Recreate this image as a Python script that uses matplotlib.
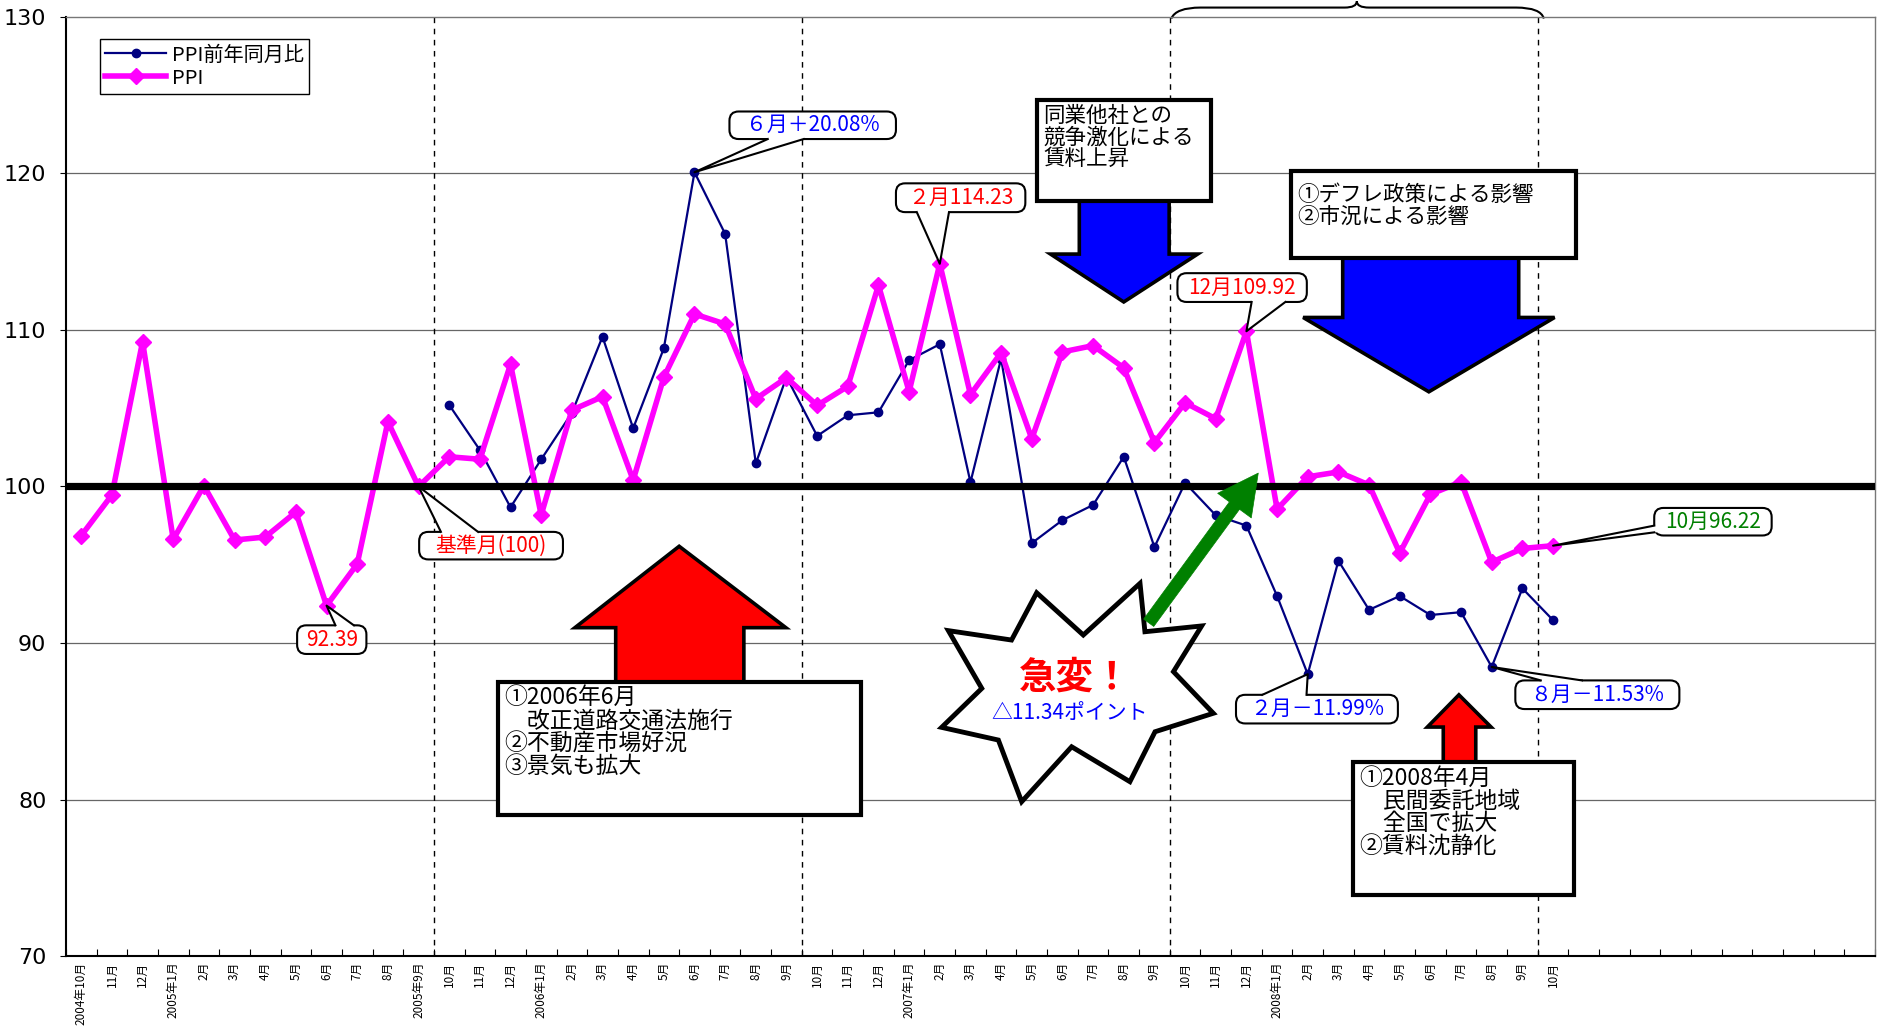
import numpy as np
import matplotlib.pyplot as plt
from matplotlib.patches import Polygon, Rectangle, FancyArrowPatch, FancyBboxPatch, PathPatch
from matplotlib.path import Path

plt.rcParams['font.family'] = ['Noto Sans CJK JP', 'DejaVu Sans']

# --- data ---------------------------------------------------------------
month_labels = [
    '2004年10月', '11月', '12月',
    '2005年1月', '2月', '3月', '4月', '5月', '6月', '7月', '8月', '2005年9月',
    '10月', '11月', '12月',
    '2006年1月', '2月', '3月', '4月', '5月', '6月', '7月', '8月', '9月',
    '10月', '11月', '12月',
    '2007年1月', '2月', '3月', '4月', '5月', '6月', '7月', '8月', '9月',
    '10月', '11月', '12月',
    '2008年1月', '2月', '3月', '4月', '5月', '6月', '7月', '8月', '9月',
    '10月',
]
n_slots = 59  # the category axis runs on past the last month

# PPI (2005年9月 = 100), from 2004年10月
ppi = [96.86, 99.46, 109.25, 96.62, 100.05, 96.58, 96.77, 98.37, 92.39, 95.05,
       104.14, 100.0, 101.9, 101.74, 107.81, 98.18, 104.88, 105.74, 100.41, 106.98,
       111.02, 110.38, 105.6, 106.95, 105.18, 106.4, 112.86, 106.06, 114.23, 105.87,
       108.55, 103.05, 108.6, 109.0, 107.58, 102.81, 105.35, 104.33, 109.92, 98.55,
       100.62, 100.93, 100.1, 95.75, 99.5, 100.3, 95.16, 96.04, 96.22]

# PPI前年同月比, from 2005年10月
yoy_start = 12
yoy = [105.21, 102.33, 98.67, 101.73, 104.7, 109.57, 103.72, 108.83, 120.08, 116.14,
       101.47, 107.0, 103.23, 104.55, 104.74, 108.07, 109.09, 100.27, 108.17, 96.38,
       97.85, 98.82, 101.9, 96.13, 100.23, 98.16, 97.5, 93.0, 88.01, 95.25,
       92.12, 93.0, 91.79, 91.97, 88.47, 93.49, 91.46]

year_breaks = [11.5, 23.5, 35.5, 47.5]

# --- figure -------------------------------------------------------------
fig = plt.figure(figsize=(18.78, 10.34), dpi=100)
ax = fig.add_axes([0.0351, 0.0754, 0.9633, 0.9082])

x_ppi = np.arange(len(ppi))
x_yoy = np.arange(yoy_start, yoy_start + len(yoy))
ax.plot(x_yoy, yoy, color='#000080', lw=1.6, marker='o', ms=6,
        label='PPI前年同月比', zorder=4)
ax.plot(x_ppi, ppi, color='#FF00FF', lw=4, marker='D', ms=8,
        label='PPI', zorder=4.5)

ax.axhline(100, color='black', lw=5.2, zorder=6)
for yv in [80, 90, 110, 120]:
    ax.axhline(yv, color='#666666', lw=0.9, zorder=1)
for xb in year_breaks:
    ax.axvline(xb, color='black', lw=1, ls=(0, (4, 4)), zorder=1.5)

ax.set_xlim(-0.5, n_slots - 0.5)
ax.set_ylim(70, 130)
ax.set_yticks(np.arange(70, 131, 10))
ax.tick_params(axis='y', labelsize=16, length=4, pad=10)
for t in ax.get_yticklabels():
    t.set_family('DejaVu Sans')

ax.set_xticks(np.arange(-0.5, n_slots, 1))
ax.set_xticklabels([])
ax.tick_params(axis='x', which='major', direction='in', length=5)
ax.set_xticks(np.arange(len(month_labels)), minor=True)
ax.set_xticklabels(month_labels, minor=True, rotation=90, fontsize=8.5)
ax.tick_params(axis='x', which='minor', length=0, pad=4)

for s in ['left', 'bottom']:
    ax.spines[s].set_linewidth(1.5)
for s in ['top', 'right']:
    ax.spines[s].set_color('#777777')
    ax.spines[s].set_linewidth(1)

ax.legend(loc='upper left', bbox_to_anchor=(0.019, 0.976), borderaxespad=0,
          fontsize=14.5, handlelength=3, fancybox=False, framealpha=1,
          edgecolor='black', borderpad=0.25, labelspacing=0.1, handletextpad=0.3)

# --- brace over the last year -------------------------------------------
brace = Path([(35.55, 129.9), (35.7, 130.6), (36.5, 130.6),
              (41.2, 130.6), (41.6, 130.6), (41.6, 131.0),
              (41.6, 130.6), (42.0, 130.6), (46.8, 130.6),
              (47.6, 130.6), (47.7, 129.9)],
             [Path.MOVETO, Path.CURVE3, Path.CURVE3,
              Path.LINETO, Path.CURVE3, Path.CURVE3,
              Path.CURVE3, Path.CURVE3, Path.LINETO,
              Path.CURVE3, Path.CURVE3])
ax.add_patch(PathPatch(brace, fc='none', ec='black', lw=1.5, clip_on=False))


# --- block arrows and text boxes ------------------------------------------
def block_arrow(shaft, head, tip, base_y, head_y, color):
    pts = [(shaft[0], base_y), (shaft[0], head_y), (head[0], head_y), tip,
           (head[1], head_y), (shaft[1], head_y), (shaft[1], base_y)]
    ax.add_patch(Polygon(pts, closed=True, fc=color, ec='black', lw=2.6,
                         joinstyle='miter', zorder=7))


def text_box(x0, x1, y0, y1, text, size, top_gap=0.3):
    ax.add_patch(Rectangle((x0, y0), x1 - x0, y1 - y0, fc='white', ec='black',
                           lw=3, zorder=8))
    ax.text(x0 + 0.2, y1 - top_gap, text, ha='left', va='top', fontsize=size,
            linespacing=1.0, zorder=8.5)


block_arrow((17.43, 21.61), (16.1, 22.98), (19.5, 96.18), 86.0, 90.98, '#FF0000')
block_arrow((32.55, 35.48), (31.61, 36.41), (34.0, 111.79), 119.5, 114.85, '#0000FF')
block_arrow((41.14, 46.88), (39.85, 48.05), (43.95, 106.05), 116.0, 110.8, '#0000FF')
block_arrow((44.42, 45.48), (43.9, 45.98), (44.93, 86.69), 81.0, 84.63, '#FF0000')

text_box(13.6, 25.44, 79.04, 87.54,
         '①2006年6月\n　改正道路交通法施行\n②不動産市場好況\n③景気も拡大', 16.5)
text_box(31.18, 36.84, 118.22, 124.72, '同業他社との\n競争激化による\n賃料上昇', 15.5)
text_box(39.46, 48.76, 114.62, 120.13, '①デフレ政策による影響\n②市況による影響', 15.5,
         top_gap=0.8)
text_box(41.49, 48.68, 73.92, 82.41,
         '①2008年4月\n　民間委託地域\n　全国で拡大\n②賃料沈静化', 16.5)

# --- starburst ----------------------------------------------------------
star = [(31.16, 93.21), (32.68, 90.51), (34.53, 93.81), (34.69, 90.72),
        (36.54, 91.09), (35.62, 88.17), (36.92, 85.51), (35.02, 84.33),
        (34.20, 81.14), (32.30, 83.37), (30.67, 79.86), (29.91, 83.8),
        (28.06, 84.61), (29.37, 87.1), (28.28, 90.79), (30.34, 90.19)]
ax.add_patch(Polygon(star, closed=True, fc='white', ec='black', lw=3.5,
                     joinstyle='miter', zorder=7))
ax.text(32.41, 87.83, '急変！', color='#FF0000', fontsize=27, fontweight='bold',
        ha='center', va='center', zorder=7.5)
ax.text(32.25, 85.53, '△11.34ポイント', color='#0000FF', fontsize=15,
        ha='center', va='center', zorder=7.5)

ax.add_patch(FancyArrowPatch((34.76, 91.15), (38.44, 101.0),
                             arrowstyle='simple,head_length=2.9,head_width=3.0,tail_width=0.9',
                             mutation_scale=10, fc='#008000', ec='#008000',
                             lw=0.5, zorder=7.6))


# --- callouts (rounded box with a pointer) --------------------------------
def callout(text, tip, box, side, base, color):
    x0, x1, y0, y1 = box
    b0, b1 = base
    if side == 'top':
        edge = [(b0, y1), (b1, y1)]
        inset = [(b1, y1 - 0.4), (b0, y1 - 0.4)]
    elif side == 'bottom':
        edge = [(b0, y0), (b1, y0)]
        inset = [(b1, y0 + 0.4), (b0, y0 + 0.4)]
    else:
        edge = [(x0, b0), (x0, b1)]
        inset = [(x0 + 0.25, b1), (x0 + 0.25, b0)]
    ax.add_patch(FancyBboxPatch((x0, y0), x1 - x0, y1 - y0,
                                boxstyle='round,pad=0,rounding_size=0.3',
                                mutation_aspect=1.96, fc='white', ec='black',
                                lw=1.5, zorder=9))
    ax.add_patch(Polygon([edge[0], tip, edge[1]] + inset, closed=True,
                         fc='white', ec='none', zorder=9.1))
    ax.plot([edge[0][0], tip[0], edge[1][0]], [edge[0][1], tip[1], edge[1][1]],
            color='black', lw=1.5, zorder=9.2)
    ax.text((x0 + x1) / 2, (y0 + y1) / 2, text, color=color, fontsize=15,
            ha='center', va='center', zorder=9.3)


callout('基準月(100)', (11, ppi[11]), (11.02, 15.71, 95.34, 97.10), 'top',
        (11.73, 12.94), '#FF0000')
callout('92.39', (8, ppi[8]), (7.04, 9.30, 89.30, 91.13), 'top',
        (8.29, 8.89), '#FF0000')
callout('６月＋20.08%', (20, yoy[20 - yoy_start]), (21.14, 26.57, 122.2, 123.96),
        'bottom', (22.39, 23.56), '#0000FF')
callout('２月114.23', (28, ppi[28]), (26.57, 30.79, 117.53, 119.37), 'bottom',
        (27.25, 28.3), '#FF0000')
callout('12月109.92', (38, ppi[38]), (35.75, 39.97, 111.79, 113.63), 'bottom',
        (38.17, 39.27), '#FF0000')
callout('10月96.22', (48, ppi[48]), (51.3, 55.13, 96.87, 98.63), 'left',
        (97.5, 97.07), '#008000')
callout('２月－11.99%', (40, yoy[40 - yoy_start]), (37.66, 42.94, 84.86, 86.69), 'top',
        (38.52, 39.96), '#0000FF')
callout('８月－11.53%', (46, yoy[46 - yoy_start]), (46.77, 52.12, 85.78, 87.61), 'top',
        (47.6, 48.94), '#0000FF')

fig.savefig('out.png', dpi=100, facecolor='white')
